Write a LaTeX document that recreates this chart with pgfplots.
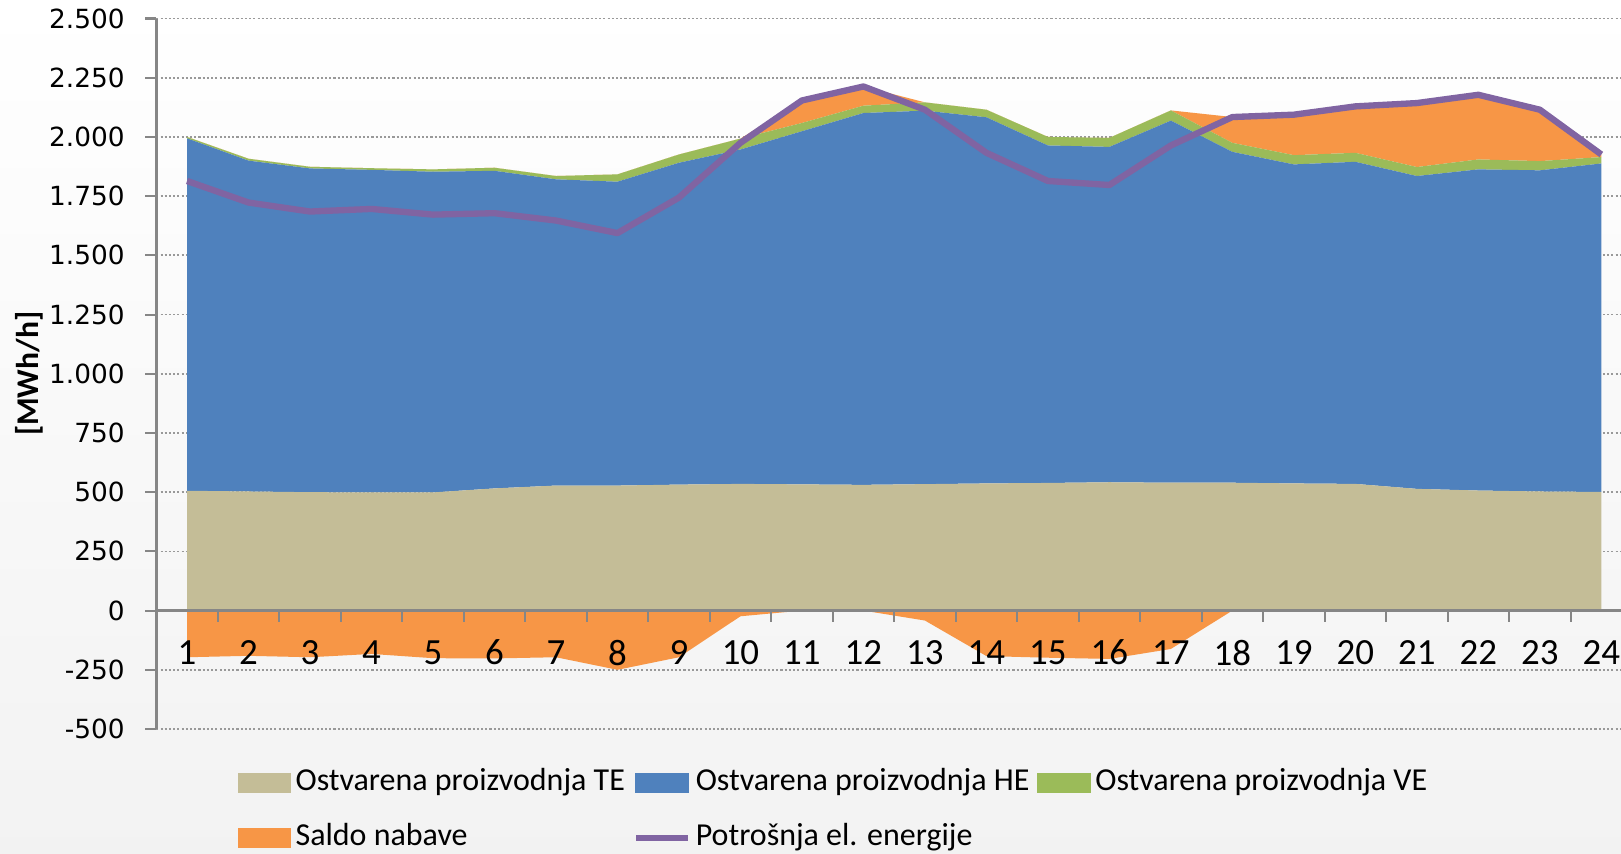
\documentclass[border=0pt]{standalone}
\usepackage{fontspec}
\setmainfont{Carlito}
\newfontfamily\yfont{DejaVu Sans}
\usepackage{pgfplots}
\usepackage{pgfplotstable}
\pgfplotsset{compat=1.18}
\definecolor{tecol}{HTML}{C4BD97}
\definecolor{hecol}{HTML}{4F81BD}
\definecolor{vecol}{HTML}{9BBB59}
\definecolor{sacol}{HTML}{F79646}
\definecolor{pocol}{HTML}{8064A2}
\definecolor{axcol}{HTML}{868686}

% hourly values, MWh/h: TE, HE, VE production, import saldo split in + and - part, consumption
\pgfplotstableread{
h  te   he    ve  sp   sn    load
1  506  1488  6   0    -197  1814
2  503  1397  8   0    -191  1723
3  500  1367  7   0    -197  1685
4  499  1362  7   0    -183  1696
5  499  1354  10  0    -201  1672
6  516  1341  13  0    -202  1678
7  528  1293  14  0    -197  1647
8  528  1283  31  0    -250  1594
9  532  1359  35  0    -197  1744
10 535  1412  46  0    -24   1975
11 533  1491  35  95   0     2154
12 531  1570  31  81   0     2213
13 534  1577  35  0    -42   2115
14 537  1546  32  0    -192  1933
15 539  1425  36  0    -199  1814
16 542  1416  38  0    -204  1797
17 540  1529  43  0    -162  1964
18 540  1397  38  109  0     2084
19 537  1347  39  171  0     2094
20 535  1360  38  196  0     2129
21 514  1321  38  270  0     2143
22 507  1356  42  273  0     2178
23 503  1356  39  217  0     2115
24 501  1387  27  11   0     1926
}\hourly

\pgfplotsset{
  frame/.style={scale only axis, width=146.47mm, height=71.05mm,
    at={(15.63mm,12.4mm)}, anchor=south west,
    xmin=0.5, xmax=24.32, ymin=-500, ymax=2500},
  swatch/.style={legend image code/.code={\fill[#1] (0mm,-0.95mm) rectangle (5.2mm,0.95mm);}},
  lineswatch/.style={legend image code/.code={\draw[##1] (0mm,0mm) -- (5.2mm,0mm);}},
}

\begin{document}
\begin{tikzpicture}
\useasboundingbox (0,0) rectangle (162.1mm,85.3mm);
\shade[top color=white, bottom color=black!5] (0,0) rectangle (162.1mm,85.3mm);

% back layer: grid and stacked areas
\begin{axis}[frame, stack plots=y,
  ytick={-500,-250,...,2500}, yticklabels={}, xtick=\empty,
  major tick length=0pt, ymajorgrids,
  grid style={draw=black!40, line width=0.5pt, dash pattern=on 0.6pt off 0.6pt},
  axis line style={draw=none}]
  \addplot[fill=tecol, draw=none] table[x=h,y=te]{\hourly} \closedcycle;
  \addplot[fill=hecol, draw=none] table[x=h,y=he]{\hourly} \closedcycle;
  \addplot[fill=vecol, draw=none] table[x=h,y=ve]{\hourly} \closedcycle;
  \addplot[fill=sacol, draw=none] table[x=h,y=sp]{\hourly} \closedcycle;
\end{axis}

% front layer: negative saldo, consumption, axes, legend
\begin{axis}[frame, axis on top,
  axis x line=middle, axis y line=left,
  axis line style={-, draw=axcol, line width=0.7pt},
  tick style={draw=axcol, line width=0.6pt},
  tick align=outside, major tick length=1.1mm,
  ytick={-500,-250,...,2500},
  yticklabels={-500,-250,0,250,500,750,1.000,1.250,1.500,1.750,2.000,2.250,2.500},
  yticklabel style={font=\yfont\fontsize{7.5}{9}\selectfont, anchor=east, inner sep=0pt, xshift=-2mm},
  xtick={1.5,2.5,...,23.5}, xticklabels={},
  extra x ticks={1,2,...,24},
  extra x tick style={major tick length=0pt,
    tick label style={font=\fontsize{10.5}{12}\selectfont, inner sep=0pt, anchor=center, yshift=-4.2mm}},
  /pgf/number format/assume math mode=true,
  ylabel={[MWh/h]},
  every axis y label/.style={at={(axis description cs:-0.0869,0.5)}, rotate=90, anchor=center,
    font=\bfseries\fontsize{9}{10}\selectfont},
  legend columns=3,
  legend style={draw=none, fill=none, inner sep=0pt,
    at={(axis description cs:0.0551,-0.0542)}, anchor=north west,
    font=\fontsize{9.1}{11}\selectfont,
    nodes={inner sep=0pt, text height=2.2mm, text depth=0.7mm},
    row sep=2.6mm,
    /tikz/every odd column/.append style={column sep=0.45mm},
    /tikz/every even column/.append style={column sep=0.8mm}},
  legend cell align=left]
  \addlegendimage{swatch=tecol}
  \addlegendimage{swatch=hecol}
  \addlegendimage{swatch=vecol}
  \addlegendimage{swatch=sacol}
  \addplot[fill=sacol, draw=none, forget plot] table[x=h,y=sn]{\hourly} \closedcycle;
  \addplot[pocol, line width=1.8pt, line join=round, lineswatch] table[x=h,y=load]{\hourly};
  \legend{Ostvarena proizvodnja TE, Ostvarena proizvodnja HE, Ostvarena proizvodnja VE, Saldo nabave, Potrošnja el. energije}
\end{axis}
\end{tikzpicture}
\end{document}
